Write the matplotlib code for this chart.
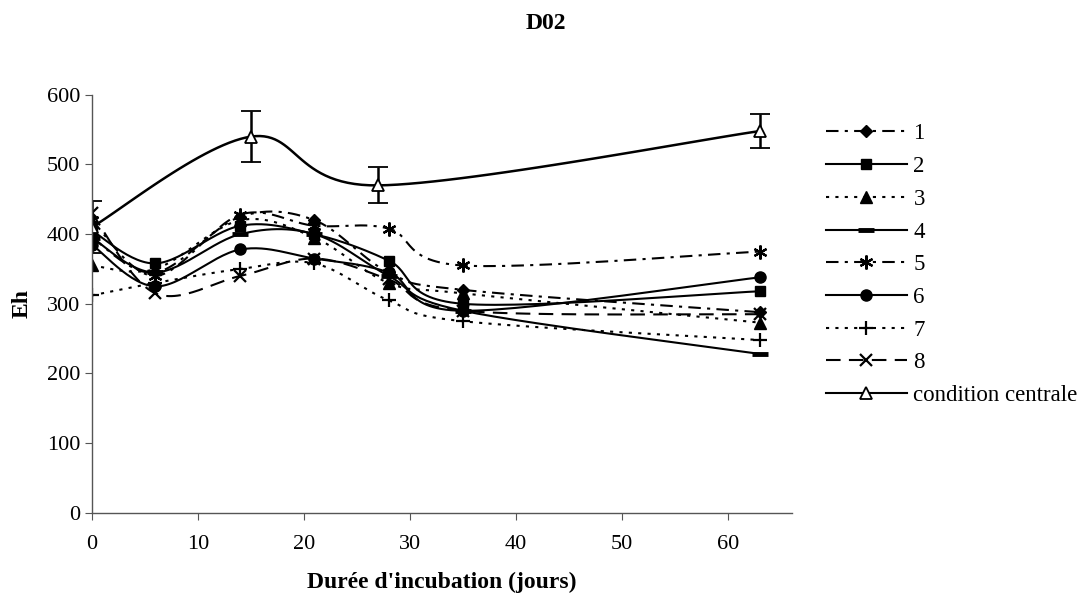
import numpy as np
import matplotlib
matplotlib.use('Agg')
import matplotlib.pyplot as plt
from matplotlib.lines import Line2D

plt.rcParams['font.family'] = ['Liberation Serif', 'DejaVu Serif']

# Data
days = [0, 6, 14, 21, 28, 35, 63]
eh_1 = [395, 345, 425, 420, 345, 320, 288]
eh_2 = [405, 358, 412, 400, 362, 300, 318]
eh_3 = [355, 350, 420, 395, 330, 315, 273]
eh_4 = [395, 345, 400, 400, 340, 290, 228]
eh_5 = [420, 340, 428, 412, 408, 355, 375]
eh_6 = [385, 325, 378, 365, 345, 290, 338]
eh_7 = [312, 330, 350, 358, 305, 275, 248]
eh_8 = [430, 315, 340, 365, 335, 290, 285]

days_central = [0, 15, 27, 63]
eh_central = [410, 540, 470, 548]
err_central = [37, 37, 26, 25]

labels = ['1', '2', '3', '4', '5', '6', '7', '8', 'condition centrale']


def smooth(x, y, n=30):
    # Excel-like smoothed line (Bezier through points)
    p = np.column_stack([x, y]).astype(float)
    pts = np.vstack([p[0], p, p[-1]])
    out = []
    for i in range(1, len(pts) - 2):
        p0, p1, p2, p3 = pts[i - 1], pts[i], pts[i + 1], pts[i + 2]
        c1 = p1 + (p2 - p0) / 6
        c2 = p2 - (p3 - p1) / 6
        t = np.linspace(0, 1, n)[:, None]
        seg = (1 - t)**3 * p1 + 3 * (1 - t)**2 * t * c1 + 3 * (1 - t) * t**2 * c2 + t**3 * p2
        out.append(seg)
    out = np.vstack(out)
    return out[:, 0], out[:, 1]


asterisk = (6, 2, 0)
styles = [
    dict(ls=(0, (6, 3, 1.5, 3)), marker='D', ms=6),
    dict(ls='-', marker='s', ms=7),
    dict(ls=(0, (1.5, 3)), marker='^', ms=8),
    dict(ls='-', marker='_', ms=11, mew=3.5),
    dict(ls=(0, (6, 3, 1.5, 3)), marker=asterisk, ms=10, mew=1.6),
    dict(ls='-', marker='o', ms=8),
    dict(ls=(0, (1.5, 3)), marker='+', ms=10, mew=1.6),
    dict(ls=(0, (7, 4)), marker='x', ms=8, mew=1.6),
]

fig = plt.figure(figsize=(10.8, 6.04), dpi=100)
ax = fig.add_axes([0.085, 0.151, 0.648, 0.692])

series = [eh_1, eh_2, eh_3, eh_4, eh_5, eh_6, eh_7, eh_8]
handles = []
for vals, st in zip(series, styles):
    sx, sy = smooth(days, vals)
    ax.plot(sx, sy, color='black', lw=1.5, linestyle=st['ls'])
    ax.plot(days, vals, linestyle='none', marker=st['marker'], ms=st['ms'],
            mew=st.get('mew', 1), color='black')
    handles.append(Line2D([], [], color='black', lw=1.5, linestyle=st['ls'],
                          marker=st['marker'], ms=st['ms'], mew=st.get('mew', 1)))

sx, sy = smooth(days_central, eh_central)
ax.plot(sx, sy, color='black', lw=1.8)
ax.errorbar(days_central, eh_central, yerr=err_central, fmt='^', ms=9,
            mfc='white', mec='black', mew=1.3, ecolor='black', elinewidth=1.8,
            capsize=7, capthick=1.8)
handles.append(Line2D([], [], color='black', lw=1.5, marker='^', ms=9,
                      mfc='white', mec='black', mew=1.3))

ax.set_xlim(0, 66)
ax.set_ylim(0, 600)
ax.set_xticks(range(0, 61, 10))
ax.set_yticks(range(0, 601, 100))
for s in ['top', 'right']:
    ax.spines[s].set_visible(False)
for s in ['left', 'bottom']:
    ax.spines[s].set_color('#555555')
    ax.spines[s].set_linewidth(1)
ax.tick_params(axis='both', labelsize=16, direction='out', length=5, color='#555555')
ax.tick_params(axis='x', pad=11)

ax.set_xlabel("Durée d'incubation (jours)", fontsize=17, fontweight='bold', labelpad=13)
ax.set_ylabel('Eh', fontsize=17, fontweight='bold', labelpad=10)
fig.suptitle('D02', x=0.505, y=0.978, fontsize=17, fontweight='bold')

fig.legend(handles, labels, loc='upper left', bbox_to_anchor=(0.746, 0.83),
           frameon=False, fontsize=16.5, handlelength=3.5, handletextpad=0.3,
           labelspacing=0.51)

fig.savefig('out.png', dpi=100)
